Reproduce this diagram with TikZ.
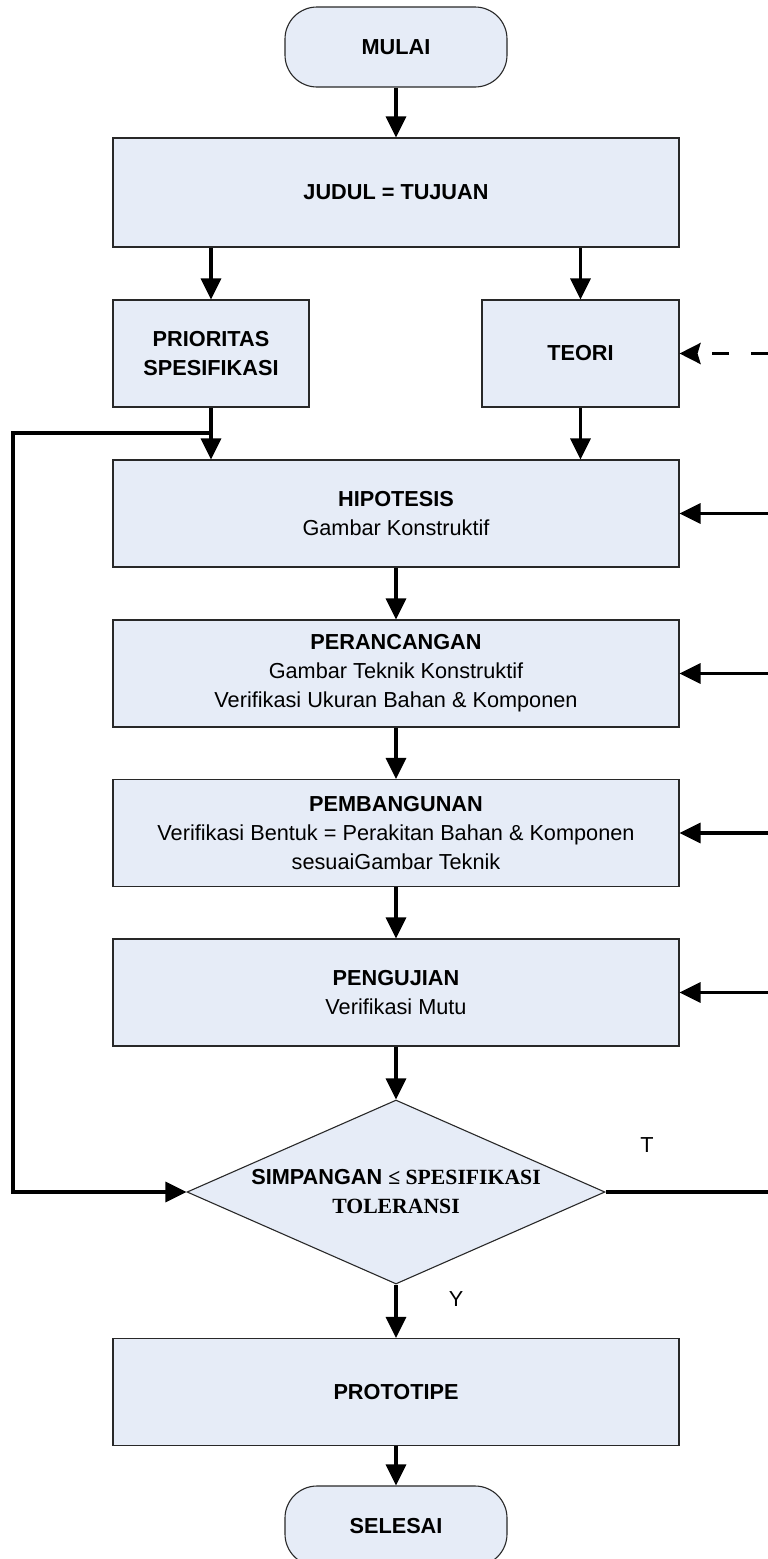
\documentclass[tikz,border=0pt]{standalone}
\usepackage{fontspec}
\setmainfont{Liberation Sans}
\newfontfamily\serifb{Liberation Serif}
\usetikzlibrary{arrows.meta,shapes.geometric}
\definecolor{boxfill}{RGB}{230,236,247}
\definecolor{boxline}{RGB}{40,40,40}
\begin{document}
\begin{tikzpicture}[x=1pt,y=-1pt,
  every node/.style={font=\fontsize{21.7}{29}\selectfont},
  proc/.style={draw=boxline, line width=1.1pt, fill=boxfill, rectangle, inner sep=0pt, align=center},
  wide/.style={proc, minimum width=566pt, minimum height=107pt},
  term/.style={proc, rounded corners=32pt, minimum width=222pt, minimum height=80pt},
  dec/.style={diamond, aspect=2.27, draw=boxline, line width=1.1pt, fill=boxfill, inner sep=0pt, align=center, minimum width=418pt, minimum height=184pt},
  conn/.style={line width=3.2pt, -{Triangle[length=21pt,width=20pt]}},
  dconn/.style={line width=3.2pt, dash pattern=on 17pt off 22pt, -{Stealth[length=21pt,width=21pt,inset=3pt]}},
  plain/.style={line width=3.2pt},
  lbl/.style={inner sep=0pt}
]
\useasboundingbox (0,0) rectangle (768,1559);
\clip (0,0) rectangle (768,1559);

% nodes
\node[term] (start) at (396,47) {\textbf{MULAI}};
\node[wide, minimum height=109pt] (judul) at (396,192.5) {\textbf{JUDUL = TUJUAN}};
\node[proc, minimum width=196pt, minimum height=107pt] (prior) at (211,353.5) {\textbf{PRIORITAS}\\\textbf{SPESIFIKASI}};
\node[proc, minimum width=197pt, minimum height=107pt] (teori) at (580.5,353.5) {\textbf{TEORI}};
\node[wide] (hip) at (396,513.5) {\textbf{HIPOTESIS}\\Gambar Konstruktif};
\node[wide] (peranc) at (396,673.5) {\textbf{PERANCANGAN}\\Gambar Teknik Konstruktif\\Verifikasi Ukuran Bahan \& Komponen};
\node[wide] (pemb) at (396,833) {\textbf{PEMBANGUNAN}\\Verifikasi Bentuk = Perakitan Bahan \& Komponen\\sesuaiGambar Teknik};
\node[wide] (penguj) at (396,992.5) {\textbf{PENGUJIAN}\\Verifikasi Mutu};
\node[dec] (cek) at (396,1192) {\textbf{SIMPANGAN} {\serifb\bfseries ≤ SPESIFIKASI}\\{\serifb\bfseries TOLERANSI}};
\node[wide] (proto) at (396,1392) {\textbf{PROTOTIPE}};
\node[term] (finish) at (396,1526) {\textbf{SELESAI}};

\node[lbl] (tlab) at (647,1145) {T};
\node[lbl] (ylab) at (456,1299) {Y};

% helper coordinates
\coordinate (jn) at (211,433);
\coordinate (lc) at (13,433);
\coordinate (lb) at (13,1192);
\coordinate (rteori) at (768,353.5);
\coordinate (rhip) at (768,513.5);
\coordinate (rperanc) at (768,673.5);
\coordinate (rpemb) at (768,833);
\coordinate (rpenguj) at (768,992.5);
\coordinate (rcek) at (768,1192);

% connectors
\draw[conn] (start) -- (judul);
\draw[conn] (prior.north |- judul.south) -- (prior.north);
\draw[conn] (teori.north |- judul.south) -- (teori.north);
\draw[conn] (prior.south) -- (prior.south |- hip.north);
\draw[conn] (teori.south) -- (teori.south |- hip.north);
\draw[conn] (hip) -- (peranc);
\draw[conn] (peranc) -- (pemb);
\draw[conn] (pemb) -- (penguj);
\draw[conn] (penguj) -- (cek);
\draw[conn] (cek) -- (proto);
\draw[conn] (proto) -- (finish);

\draw[conn, line join=miter, line cap=rect] (jn) -- (lc) -- (lb) -- (cek.west);
\draw[plain] (cek.east) -- (rcek);

\draw[dconn] (rteori) -- (teori.east);
\draw[conn] (rhip) -- (hip.east);
\draw[conn] (rperanc) -- (peranc.east);
\draw[conn] (rpemb) -- (pemb.east);
\draw[conn] (rpenguj) -- (penguj.east);
\end{tikzpicture}
\end{document}
